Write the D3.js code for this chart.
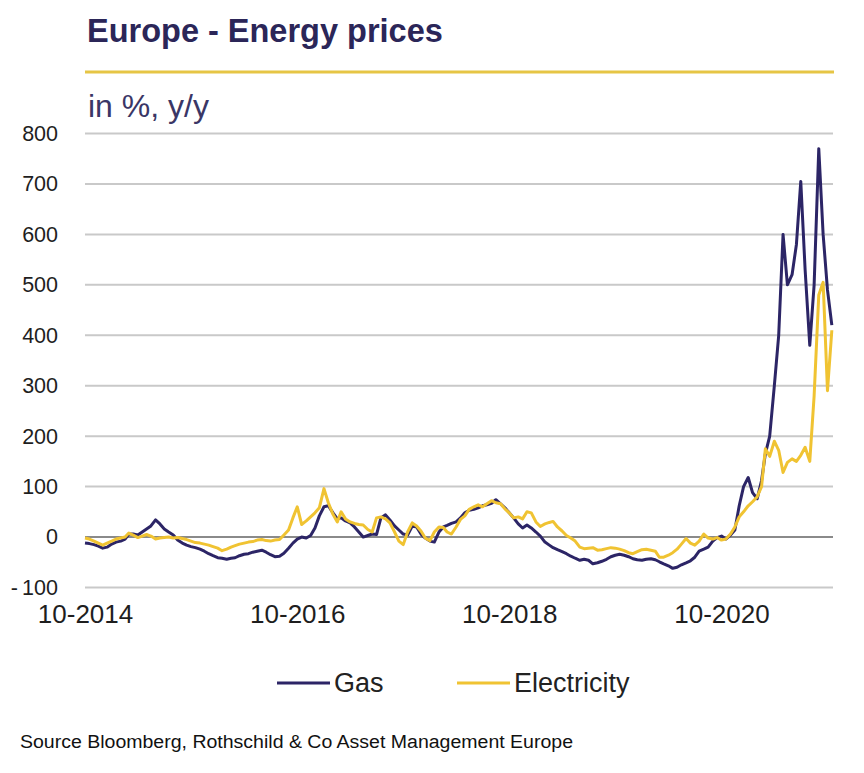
<!DOCTYPE html>
<html>
<head>
<meta charset="utf-8">
<script src="https://cdn.jsdelivr.net/npm/d3@7"></script>
<style>
    body { margin: 0; background: #fff; }
    text { font-family: "Liberation Sans", Arial, sans-serif; }
</style>
</head>
<body>
<svg id="chart" width="864" height="773"></svg>
<script>
// Chart values (% y/y, one point every half month from 10-2014)
const seriesNames = ['Gas', 'Electricity'];
const startYear = 2014, startMonth = 9; // October 2014
const yTicks = [-100, 0, 100, 200, 300, 400, 500, 600, 700, 800];
const xTickLabels = ['10-2014', '10-2016', '10-2018', '10-2020'];

const gas = [
    -12, -13, -15, -18, -22, -20, -14, -10, -8, -4,
    6, 6, 4, 10, 16, 22, 34, 26, 16, 10,
    4, -6, -12, -16, -19, -21, -24, -28, -33, -37,
    -41, -42, -44, -42, -41, -37, -34, -33, -30, -28,
    -26, -30, -35, -39, -38, -32, -22, -12, -4, 0,
    -2, 3, 18, 42, 60, 62, 48, 36, 38, 32,
    28, 20, 10, 0, 3, 6, 5, 38, 44, 34,
    22, 14, 6, 4, 22, 20, 6, -2, -8, -10,
    10, 20, 23, 27, 30, 38, 48, 53, 55, 58,
    62, 64, 67, 74, 66, 58, 48, 38, 26, 18,
    24, 18, 10, 2, -10, -16, -21, -25, -29, -33,
    -38, -42, -46, -44, -46, -53, -51, -48, -44, -39,
    -36, -34, -36, -39, -43, -45, -46, -44, -43, -45,
    -49, -53, -57, -62, -60, -55, -51, -47, -40, -28,
    -24, -20, -8, -1, 2, -4, 4, 14, 62, 100,
    118, 88, 76, 112, 165, 200, 300, 400, 600, 500,
    520, 580, 705, 530, 380, 500, 770, 600, 490, 420
];

const electricity = [
    -2, -4, -8, -12, -16, -12, -8, -4, -2, 0,
    8, 4, -1, 2, 5, 2, -4, -2, -1, 0,
    -2, -1, -3, -5, -8, -11, -12, -14, -16, -19,
    -22, -27, -24, -20, -17, -14, -12, -10, -9, -6,
    -5, -7, -8, -6, -5, 4, 14, 38, 60, 25,
    32, 40, 48, 58, 96, 68, 45, 30, 50, 36,
    30, 27, 25, 24, 15, 10, 38, 40, 36, 28,
    10, -8, -15, 10, 28, 22, 12, -2, -7, 10,
    20, 19, 10, 6, 20, 35, 42, 55, 60, 64,
    60, 66, 72, 68, 66, 56, 48, 38, 40, 36,
    50, 48, 30, 21, 26, 29, 31, 20, 12, 3,
    -2, -8, -20, -23, -22, -21, -26, -25, -23, -21,
    -22, -24, -27, -31, -33, -29, -25, -24, -26, -28,
    -40, -40, -36, -31, -24, -14, -3, -12, -16, -8,
    6, -2, -4, -1, -6, -4, 6, 20, 40, 50,
    62, 70, 80, 100, 175, 160, 190, 172, 128, 148,
    155, 150, 162, 178, 150, 280, 480, 505, 290, 410
];

const colors = { Gas: '#2c2566', Electricity: '#f0c332' };

// Dates for each half-month point
function pointDate(i) {
    return new Date(startYear, startMonth + Math.floor(i / 2), i % 2 ? 16 : 1);
}

const svg = d3.select('#chart');

// Title and subtitle
svg.append('text')
    .attr('x', 87)
    .attr('y', 42)
    .attr('font-size', 32.5)
    .attr('font-weight', 'bold')
    .attr('fill', '#2b2658')
    .text('Europe - Energy prices');

svg.append('line')
    .attr('x1', 85).attr('x2', 834)
    .attr('y1', 72).attr('y2', 72)
    .attr('stroke', '#e6c545')
    .attr('stroke-width', 3);

svg.append('text')
    .attr('x', 88)
    .attr('y', 117)
    .attr('font-size', 32)
    .attr('fill', '#3a3666')
    .text('in %, y/y');

// Scales
const x = d3.scaleTime()
    .domain([new Date(2014, 9, 1), new Date(2021, 9, 20)])
    .range([85, 833]);

const y = d3.scaleLinear()
    .domain([-100, 800])
    .range([587.5, 133.5]);

// Gridlines
svg.append('g')
    .selectAll('line')
    .data(yTicks)
    .enter()
    .append('line')
    .attr('x1', 85)
    .attr('x2', 833)
    .attr('y1', d => y(d))
    .attr('y2', d => y(d))
    .attr('stroke', d => d === 0 ? '#8a8a8a' : '#c9c9c9')
    .attr('stroke-width', 2);

// Y axis labels (Excel style minus: hyphen and a small gap)
const yAxis = svg.append('g')
    .attr('transform', 'translate(58,0)')
    .call(d3.axisLeft(y).tickValues(yTicks).tickSize(0).tickPadding(0)
        .tickFormat(d => d < 0 ? '-\u2009' + Math.abs(d) : String(d)));
yAxis.select('.domain').remove();
yAxis.selectAll('text')
    .attr('font-size', 21.5)
    .attr('fill', '#1e1e1e')
    .style('font-family', '"Liberation Sans", Arial, sans-serif');

// X axis labels
const xTickDates = xTickLabels.map(s => new Date(+s.slice(3), +s.slice(0, 2) - 1, 1));
const xAxis = svg.append('g')
    .attr('transform', 'translate(0,605)')
    .call(d3.axisBottom(x).tickValues(xTickDates).tickSize(0).tickPadding(0)
        .tickFormat((d, i) => xTickLabels[i]));
xAxis.select('.domain').remove();
xAxis.selectAll('text')
    .attr('font-size', 26)
    .attr('fill', '#1e1e1e')
    .style('font-family', '"Liberation Sans", Arial, sans-serif');

// Lines
const line = d3.line()
    .x((d, i) => x(pointDate(i)))
    .y(d => y(d));

svg.append('path')
    .datum(gas)
    .attr('fill', 'none')
    .attr('stroke', colors.Gas)
    .attr('stroke-width', 3)
    .attr('stroke-linejoin', 'round')
    .attr('d', line);

svg.append('path')
    .datum(electricity)
    .attr('fill', 'none')
    .attr('stroke', colors.Electricity)
    .attr('stroke-width', 3)
    .attr('stroke-linejoin', 'round')
    .attr('d', line);

// Legend
const legendX = [277, 457];
const legend = svg.append('g');
seriesNames.forEach((name, i) => {
    legend.append('line')
        .attr('x1', legendX[i]).attr('x2', legendX[i] + 53)
        .attr('y1', 683).attr('y2', 683)
        .attr('stroke', colors[name])
        .attr('stroke-width', 3);
    legend.append('text')
        .attr('x', legendX[i] + 57)
        .attr('y', 692)
        .attr('font-size', 27)
        .attr('fill', '#222')
        .text(name);
});

// Source
svg.append('text')
    .attr('x', 20)
    .attr('y', 748)
    .attr('font-size', 18)
    .attr('fill', '#111')
    .attr('textLength', 553)
    .attr('lengthAdjust', 'spacingAndGlyphs')
    .text('Source Bloomberg, Rothschild & Co Asset Management Europe');
</script>
</body>
</html>
